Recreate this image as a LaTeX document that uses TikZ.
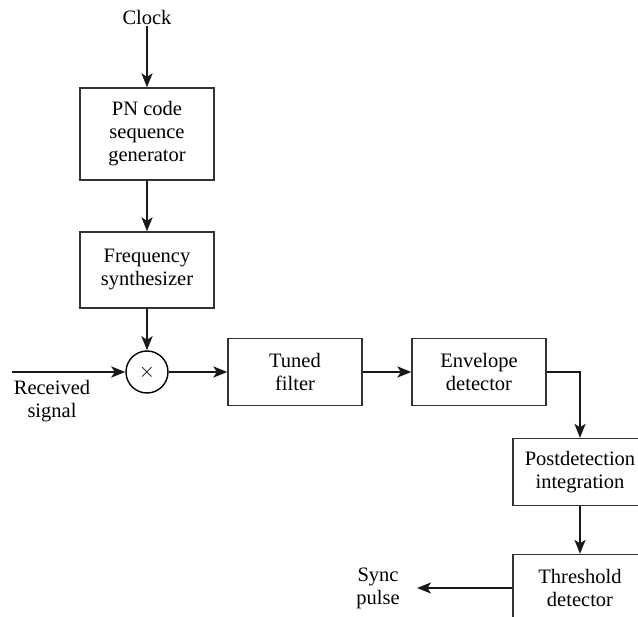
\documentclass[tikz,border=0pt]{standalone}
\usepackage{fontspec}
\setmainfont{Liberation Serif}
\usetikzlibrary{arrows.meta,positioning}
\tikzset{
  sblock/.style={rectangle, draw=black!80, line width=1.2pt, minimum width=134pt,
                 minimum height=67pt, inner sep=2pt, align=center,
                 font=\fontsize{20.5}{23}\selectfont},
  smix/.style  ={circle, draw=black, line width=1.4pt, minimum size=42pt, inner sep=0pt},
  sflow/.style ={-{Stealth[length=14pt, width=11pt, inset=3.5pt]}, line width=2.4pt, black!90},
  slabel/.style={align=center, font=\fontsize{20.5}{23}\selectfont, inner sep=1pt},
}
\begin{document}
\begin{tikzpicture}[x=1pt, y=-1pt]
\useasboundingbox (0,0) rectangle (638,617);
% left column
\node[slabel, anchor=base] (clock) at (147,25) {Clock};
\node[sblock, minimum height=92pt] (pn) at (147,134) {PN code\\sequence\\generator};
\node[sblock, minimum height=76pt] (freq) at (147,270) {Frequency\\synthesizer};
\node[smix] (mix) at (147,372) {\fontsize{22}{22}\selectfont$\times$};
\coordinate (rin) at (12,372);
\node[slabel] (rlab) at (52,401) {Received\\signal};
% main row
\node[sblock] (tuned) at (295,372) {Tuned\\filter};
\node[sblock] (env) at (479,372) {Envelope\\detector};
% right column
\node[sblock] (post) at (580,472) {Postdetection\\integration};
\node[sblock] (thr) at (580,588) {Threshold\\detector};
\coordinate (sout) at (417,588);
\node[slabel] (slab) at (378,588) {Sync\\pulse};
% connectors
\draw[sflow] (clock.south) -- (pn.north);
\draw[sflow] (pn) -- (freq);
\draw[sflow] (freq) -- (mix);
\draw[sflow] (rin) -- (mix);
\draw[sflow] (mix) -- (tuned);
\draw[sflow] (tuned) -- (env);
\draw[sflow] (env.east) -| (post.north);
\draw[sflow] (post) -- (thr);
\draw[sflow] (thr.west) -- (sout);
\end{tikzpicture}
\end{document}
